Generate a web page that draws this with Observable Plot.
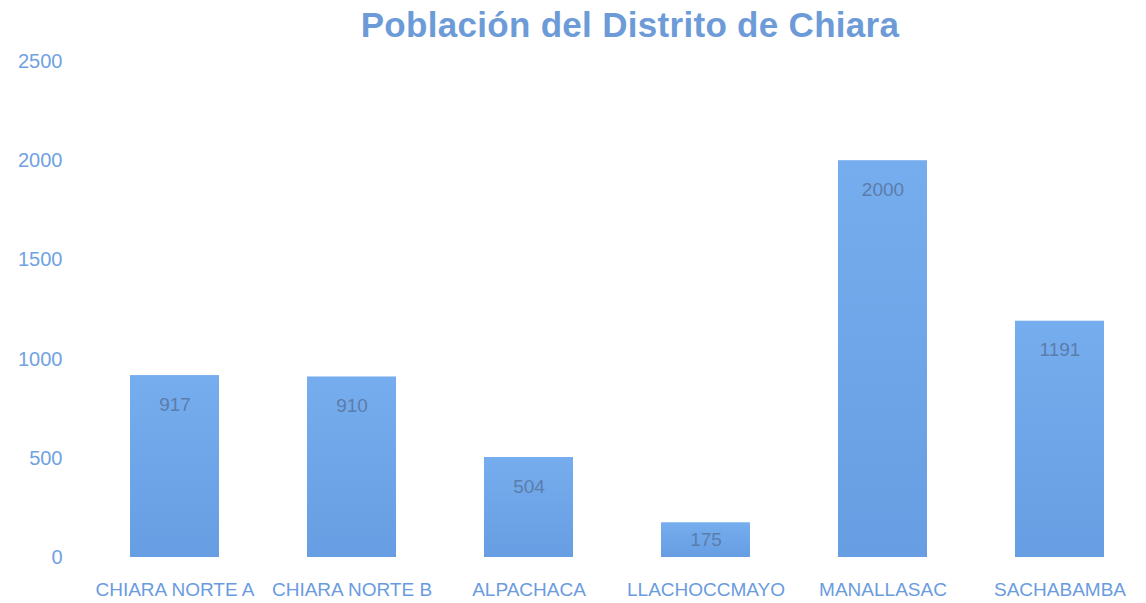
<!DOCTYPE html>
<html><head><meta charset="utf-8">
<script src="https://cdn.jsdelivr.net/npm/d3@7"></script>
<script src="https://cdn.jsdelivr.net/npm/@observablehq/plot@0.6"></script>
<style>
body{margin:0;background:#fff;font-family:"Liberation Sans",Arial,sans-serif;}
#title{height:50px;width:1146px;position:relative;}
#title span{position:absolute;left:630px;top:7px;line-height:1;transform:translateX(-50%);white-space:nowrap;font-weight:bold;font-size:35px;letter-spacing:0.3px;color:#6d9bd8;}
</style></head>
<body>
<div id="title"><span>Población del Distrito de Chiara</span></div>
<div id="chart"></div>
<script>
const categories = ["CHIARA NORTE A","CHIARA NORTE B","ALPACHACA","LLACHOCCMAYO","MANALLASAC","SACHABAMBA"];
const values = [917, 910, 504, 175, 2000, 1191];
const yTicks = [0, 500, 1000, 1500, 2000, 2500];

const data = categories.map((c, i) => ({category: c, value: values[i]}));

const gradient = () => {
  const svg = d3.create("svg:defs");
  const g = svg.append("linearGradient").attr("id", "barGrad").attr("x1", 0).attr("y1", 0).attr("x2", 0).attr("y2", 1);
  g.append("stop").attr("offset", "0%").attr("stop-color", "#76adee");
  g.append("stop").attr("offset", "100%").attr("stop-color", "#679ee3");
  return svg.node();
};

const chart = Plot.plot({
  width: 1146,
  height: 553,
  marginTop: 11,
  marginBottom: 46,
  marginLeft: 129,
  marginRight: 41,
  style: {fontFamily: "'Liberation Sans', Arial, sans-serif", background: "#fff", overflow: "visible"},
  x: {domain: categories, paddingInner: 0.5, paddingOuter: 0, label: null},
  y: {domain: [0, 2500], label: null},
  marks: [
    gradient,
    Plot.axisX({tickSize: 0, tickPadding: 25, fontSize: 19, fill: "#6a9be0", style: "letter-spacing:0.4px"}),
    Plot.axisY({ticks: yTicks, tickSize: 0, tickPadding: 67, fontSize: 20, fill: "#70a2e2", tickFormat: d => String(d)}),
    Plot.barY(data, {x: "category", y: "value", fill: "url(#barGrad)"}),
    Plot.text(data, {x: "category", y: d => Math.max(d.value - 146, d.value / 2), text: d => String(d.value), fill: "#5b7dab", fontSize: 19})
  ]
});
document.getElementById("chart").appendChild(chart);
</script>
</body></html>
